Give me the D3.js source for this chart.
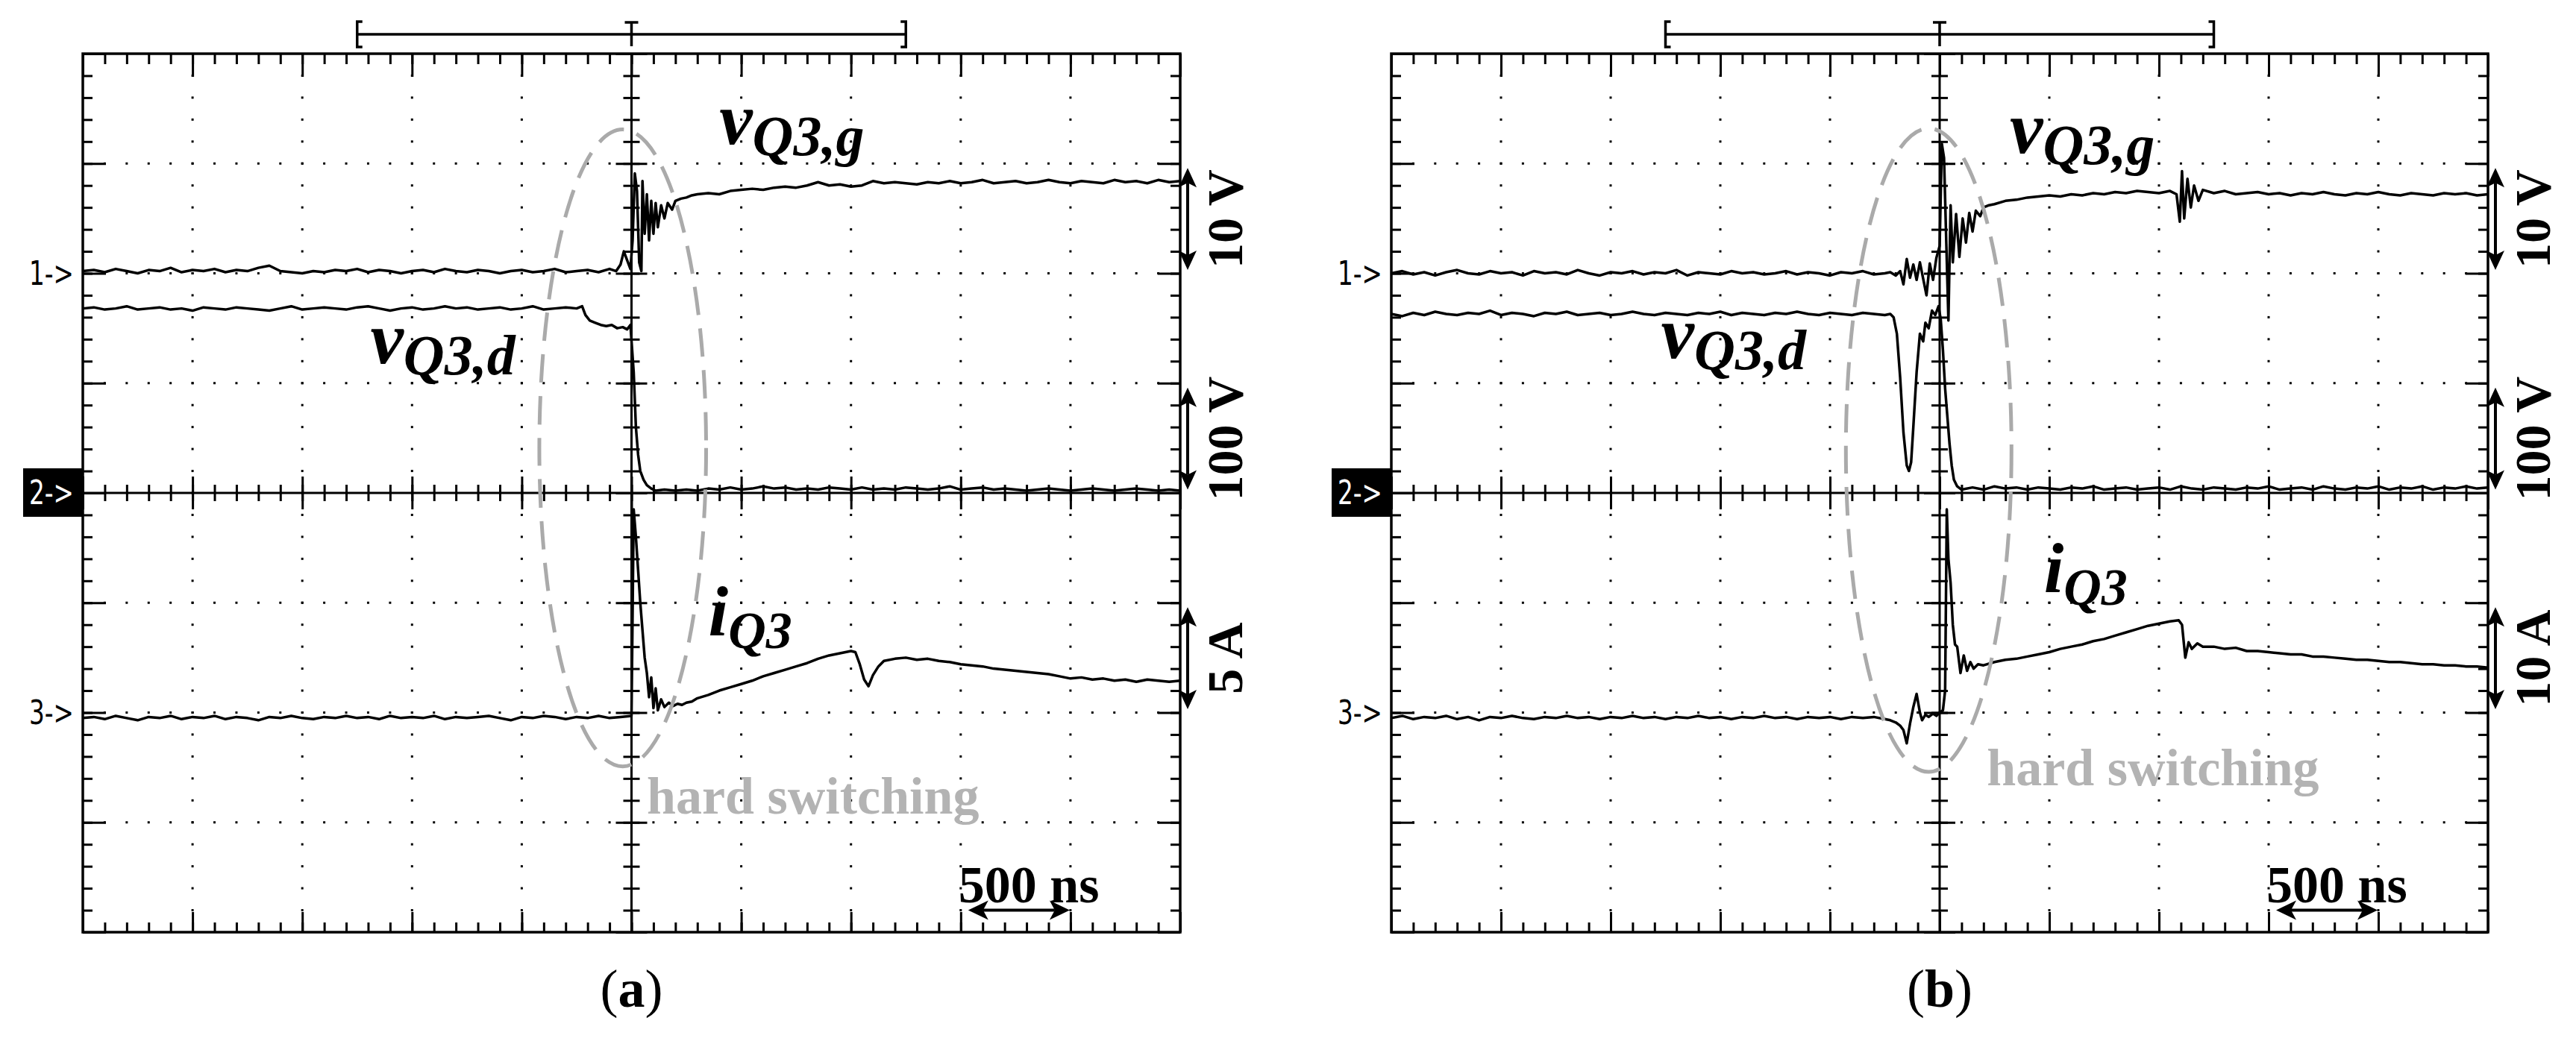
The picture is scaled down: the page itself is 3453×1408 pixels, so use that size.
<!DOCTYPE html>
<html>
<head>
<meta charset="utf-8">
<script src="https://cdn.jsdelivr.net/npm/d3@7"></script>
<style>
body { margin: 0; background: #fff; }
svg { display: block; }
.tk line { stroke: #000; stroke-width: 3; }
.tk path, .tk text { display: none; }
</style>
</head>
<body>
<svg class="chart" width="3453" height="1408"></svg>
<script>
// every trace: [time (div), level (div above its channel marker)]
// (a) gate voltage, drain voltage, current
const vgA = [[-5,.02],[-4.9,.03],[-4.8,.01],[-4.7,.04],[-4.6,.02],[-4.5,.0],[-4.4,.03],[-4.3,.02],[-4.2,.05],[-4.1,.01],
  [-4,.03],[-3.9,.02],[-3.8,.04],[-3.7,.01],[-3.6,.03],[-3.5,.02],[-3.4,.05],[-3.3,.07],[-3.2,.02],[-3.1,.01],
  [-3,.0],[-2.9,.02],[-2.8,.01],[-2.7,.03],[-2.6,.02],[-2.5,.04],[-2.4,.01],[-2.3,.03],[-2.2,.02],[-2.1,.0],
  [-2,.02],[-1.9,.03],[-1.8,.01],[-1.7,.04],[-1.6,.02],[-1.5,.01],[-1.4,.03],[-1.3,.02],[-1.2,.0],[-1.1,.02],
  [-1,.03],[-0.9,.01],[-0.8,.02],[-0.7,.04],[-0.6,.01],[-0.5,.02],[-0.4,.03],[-0.3,.01],[-0.2,.04],[-0.14,.02],
  [-0.1,.08],[-0.07,.2],[-0.04,.12],[-0.01,.04],[0.01,.3],[0.03,.91],[0.05,.75],[0.07,.1],[0.09,.02],[0.1,.84],
  [0.12,.36],[0.14,.72],[0.16,.3],[0.18,.66],[0.2,.36],[0.22,.64],[0.24,.42],[0.27,.62],[0.3,.5],[0.33,.64],
  [0.37,.58],[0.4,.66],[0.45,.68],[0.5,.69],[0.55,.71],[0.6,.72],[0.7,.73],[0.8,.72],[0.9,.75],[1,.76],
  [1.1,.77],[1.2,.76],[1.3,.78],[1.4,.79],[1.5,.78],[1.6,.8],[1.7,.83],[1.8,.8],[1.9,.81],[2,.79],
  [2.1,.8],[2.2,.84],[2.3,.82],[2.4,.83],[2.5,.82],[2.6,.81],[2.7,.83],[2.8,.82],[2.9,.84],[3,.82],
  [3.1,.83],[3.2,.85],[3.3,.82],[3.4,.83],[3.5,.84],[3.6,.82],[3.7,.83],[3.8,.85],[3.9,.83],[4,.82],
  [4.1,.84],[4.2,.83],[4.3,.82],[4.4,.85],[4.5,.83],[4.6,.84],[4.7,.82],[4.8,.85],[4.9,.83],[5,.84]];

const vdA = [[-5,1.68],[-4.9,1.69],[-4.8,1.67],[-4.7,1.68],[-4.6,1.7],[-4.5,1.67],[-4.4,1.68],[-4.3,1.69],[-4.2,1.67],[-4.1,1.68],
  [-4,1.66],[-3.9,1.69],[-3.8,1.68],[-3.7,1.67],[-3.6,1.69],[-3.5,1.68],[-3.4,1.67],[-3.3,1.66],[-3.2,1.68],[-3.1,1.7],
  [-3,1.67],[-2.9,1.68],[-2.8,1.69],[-2.7,1.68],[-2.6,1.67],[-2.5,1.69],[-2.4,1.7],[-2.3,1.68],[-2.2,1.66],[-2.1,1.68],
  [-2,1.69],[-1.9,1.67],[-1.8,1.68],[-1.7,1.7],[-1.6,1.68],[-1.5,1.69],[-1.4,1.67],[-1.3,1.68],[-1.2,1.69],[-1.1,1.67],
  [-1,1.68],[-0.9,1.7],[-0.8,1.67],[-0.7,1.68],[-0.6,1.69],[-0.5,1.68],[-0.45,1.7],[-0.42,1.62],[-0.38,1.57],[-0.33,1.55],
  [-0.28,1.53],[-0.23,1.52],[-0.18,1.53],[-0.13,1.5],[-0.08,1.51],[-0.04,1.49],[-0.01,1.53],[0.02,1.1],[0.04,0.6],[0.06,0.35],
  [0.08,0.2],[0.11,0.12],[0.14,0.07],[0.18,0.04],[0.22,0.02],[0.3,0.03],[0.4,0.02],[0.5,0.03],[0.6,0.02],[0.7,0.04],
  [0.8,0.03],[0.9,0.05],[1,0.03],[1.1,0.04],[1.2,0.06],[1.3,0.04],[1.4,0.05],[1.5,0.03],[1.6,0.04],[1.7,0.03],
  [1.8,0.05],[1.9,0.04],[2,0.03],[2.1,0.05],[2.2,0.03],[2.3,0.04],[2.4,0.03],[2.5,0.05],[2.6,0.04],[2.7,0.03],
  [2.8,0.04],[2.9,0.06],[3,0.03],[3.1,0.04],[3.2,0.05],[3.3,0.03],[3.4,0.04],[3.5,0.03],[3.6,0.02],[3.7,0.03],
  [3.8,0.04],[3.9,0.03],[4,0.02],[4.1,0.03],[4.2,0.04],[4.3,0.03],[4.4,0.02],[4.5,0.03],[4.6,0.04],[4.7,0.03],
  [4.8,0.02],[4.9,0.03],[5,0.02]];

const iA = [[-5,-.05],[-4.9,-.04],[-4.8,-.06],[-4.7,-.03],[-4.6,-.05],[-4.5,-.07],[-4.4,-.04],[-4.3,-.05],[-4.2,-.03],[-4.1,-.06],
  [-4,-.04],[-3.9,-.05],[-3.8,-.03],[-3.7,-.06],[-3.6,-.04],[-3.5,-.05],[-3.4,-.07],[-3.3,-.04],[-3.2,-.05],[-3.1,-.03],
  [-3,-.05],[-2.9,-.06],[-2.8,-.04],[-2.7,-.05],[-2.6,-.03],[-2.5,-.05],[-2.4,-.04],[-2.3,-.06],[-2.2,-.03],[-2.1,-.05],
  [-2,-.04],[-1.9,-.05],[-1.8,-.03],[-1.7,-.06],[-1.6,-.04],[-1.5,-.05],[-1.4,-.04],[-1.3,-.03],[-1.2,-.05],[-1.1,-.07],
  [-1,-.04],[-0.9,-.05],[-0.8,-.03],[-0.7,-.04],[-0.6,-.06],[-0.5,-.04],[-0.4,-.05],[-0.3,-.03],[-0.2,-.05],[-0.1,-.04],
  [0,-.03],[0.02,1.85],[0.04,1.6],[0.06,1.3],[0.08,1.0],[0.1,0.75],[0.12,0.5],[0.14,0.36],[0.16,0.14],[0.18,0.32],
  [0.2,0.04],[0.22,0.22],[0.24,0.02],[0.27,0.12],[0.3,0.05],[0.34,0.09],[0.38,0.06],[0.42,0.08],[0.46,0.07],[0.5,0.09],
  [0.55,0.1],[0.6,0.13],[0.7,0.16],[0.8,0.2],[0.9,0.23],[1,0.26],[1.1,0.29],[1.2,0.33],[1.3,0.36],[1.4,0.39],
  [1.5,0.42],[1.6,0.45],[1.7,0.49],[1.8,0.52],[1.9,0.54],[2,0.56],[2.04,0.55],[2.08,0.44],[2.12,0.3],[2.16,0.24],
  [2.2,0.34],[2.25,0.42],[2.3,0.47],[2.4,0.49],[2.5,0.5],[2.6,0.48],[2.7,0.49],[2.8,0.47],[2.9,0.46],[3,0.44],
  [3.1,0.43],[3.2,0.42],[3.3,0.4],[3.4,0.39],[3.5,0.38],[3.6,0.37],[3.7,0.36],[3.8,0.35],[3.9,0.33],[4,0.31],
  [4.1,0.32],[4.2,0.3],[4.3,0.31],[4.4,0.29],[4.5,0.3],[4.6,0.28],[4.7,0.3],[4.8,0.29],[4.9,0.28],[5,0.29]];

// (b)
const vgB = [[-5,.0],[-4.9,.02],[-4.8,-.01],[-4.7,.01],[-4.6,-.02],[-4.5,.01],[-4.4,.03],[-4.3,.0],[-4.2,-.01],[-4.1,.02],
  [-4,.0],[-3.9,.01],[-3.8,-.02],[-3.7,.02],[-3.6,.0],[-3.5,.01],[-3.4,-.01],[-3.3,.03],[-3.2,.0],[-3.1,-.02],
  [-3,.01],[-2.9,.0],[-2.8,.02],[-2.7,-.01],[-2.6,.01],[-2.5,.0],[-2.4,.03],[-2.3,-.02],[-2.2,.01],[-2.1,.0],
  [-2,-.01],[-1.9,.02],[-1.8,.0],[-1.7,.01],[-1.6,-.01],[-1.5,.0],[-1.4,.02],[-1.3,-.01],[-1.2,.01],[-1.1,.0],
  [-1,-.02],[-0.9,.01],[-0.8,.0],[-0.7,.02],[-0.6,-.01],[-0.5,.0],[-0.45,.01],[-0.4,-.02],[-0.36,.02],[-0.33,-.1],
  [-0.3,.13],[-0.27,-.04],[-0.24,.08],[-0.21,-.06],[-0.18,.1],[-0.15,-.05],[-0.12,-.2],[-0.09,.09],[-0.06,-.06],[-0.03,.14],
  [0,.25],[0.02,1.18],[0.04,1.05],[0.06,0.3],[0.08,-0.43],[0.1,0.62],[0.12,0.1],[0.15,0.54],[0.18,0.15],[0.21,0.5],
  [0.24,0.28],[0.27,0.55],[0.3,0.38],[0.33,0.57],[0.37,0.52],[0.4,0.6],[0.45,0.62],[0.5,0.63],[0.6,0.66],[0.7,0.67],
  [0.8,0.69],[0.9,0.7],[1,0.71],[1.1,0.7],[1.2,0.72],[1.3,0.71],[1.4,0.73],[1.5,0.72],[1.6,0.74],[1.7,0.73],
  [1.8,0.75],[1.9,0.74],[2,0.73],[2.1,0.75],[2.16,0.72],[2.19,0.47],[2.21,0.93],[2.23,0.5],[2.26,0.86],[2.29,0.6],
  [2.32,0.8],[2.36,0.66],[2.4,0.76],[2.5,0.73],[2.6,0.75],[2.7,0.72],[2.8,0.73],[2.9,0.74],[3,0.72],[3.1,0.73],
  [3.2,0.71],[3.3,0.73],[3.4,0.72],[3.5,0.74],[3.6,0.72],[3.7,0.71],[3.8,0.73],[3.9,0.72],[4,0.74],[4.1,0.72],
  [4.2,0.71],[4.3,0.73],[4.4,0.72],[4.5,0.71],[4.6,0.73],[4.7,0.72],[4.8,0.73],[4.9,0.71],[5,0.72]];

const vdB = [[-5,1.63],[-4.9,1.61],[-4.8,1.64],[-4.7,1.62],[-4.6,1.65],[-4.5,1.63],[-4.4,1.62],[-4.3,1.64],[-4.2,1.63],[-4.1,1.66],
  [-4,1.62],[-3.9,1.64],[-3.8,1.63],[-3.7,1.61],[-3.6,1.64],[-3.5,1.63],[-3.4,1.65],[-3.3,1.62],[-3.2,1.63],[-3.1,1.64],
  [-3,1.62],[-2.9,1.63],[-2.8,1.65],[-2.7,1.63],[-2.6,1.62],[-2.5,1.64],[-2.4,1.63],[-2.3,1.62],[-2.2,1.64],[-2.1,1.63],
  [-2,1.65],[-1.9,1.62],[-1.8,1.64],[-1.7,1.63],[-1.6,1.62],[-1.5,1.64],[-1.4,1.63],[-1.3,1.65],[-1.2,1.63],[-1.1,1.62],
  [-1,1.64],[-0.9,1.63],[-0.8,1.62],[-0.7,1.64],[-0.6,1.63],[-0.5,1.62],[-0.45,1.63],[-0.42,1.6],[-0.39,1.45],[-0.36,1.05],
  [-0.33,0.55],[-0.3,0.25],[-0.28,0.2],[-0.26,0.28],[-0.24,0.6],[-0.21,1.1],[-0.18,1.45],[-0.15,1.38],[-0.13,1.55],[-0.1,1.5],
  [-0.07,1.66],[-0.04,1.62],[-0.01,1.7],[0.01,1.58],[0.03,1.3],[0.05,0.95],[0.07,0.7],[0.09,0.45],[0.11,0.25],[0.13,0.12],
  [0.16,0.06],[0.2,0.03],[0.3,0.05],[0.4,0.03],[0.5,0.06],[0.6,0.04],[0.7,0.05],[0.8,0.03],[0.9,0.05],[1,0.04],
  [1.1,0.03],[1.2,0.05],[1.3,0.04],[1.4,0.06],[1.5,0.03],[1.6,0.04],[1.7,0.05],[1.8,0.03],[1.9,0.04],[2,0.05],
  [2.1,0.03],[2.2,0.06],[2.3,0.04],[2.4,0.03],[2.5,0.05],[2.6,0.04],[2.7,0.03],[2.8,0.05],[2.9,0.04],[3,0.06],
  [3.1,0.03],[3.2,0.04],[3.3,0.05],[3.4,0.03],[3.5,0.06],[3.6,0.04],[3.7,0.03],[3.8,0.05],[3.9,0.04],[4,0.06],
  [4.1,0.03],[4.2,0.05],[4.3,0.04],[4.4,0.06],[4.5,0.03],[4.6,0.05],[4.7,0.04],[4.8,0.06],[4.9,0.04],[5,0.05]];

const iB = [[-5,-.05],[-4.9,-.03],[-4.8,-.06],[-4.7,-.04],[-4.6,-.05],[-4.5,-.03],[-4.4,-.06],[-4.3,-.04],[-4.2,-.07],[-4.1,-.04],
  [-4,-.05],[-3.9,-.03],[-3.8,-.05],[-3.7,-.06],[-3.6,-.04],[-3.5,-.05],[-3.4,-.03],[-3.3,-.05],[-3.2,-.04],[-3.1,-.06],
  [-3,-.04],[-2.9,-.05],[-2.8,-.03],[-2.7,-.05],[-2.6,-.04],[-2.5,-.06],[-2.4,-.04],[-2.3,-.05],[-2.2,-.03],[-2.1,-.05],
  [-2,-.04],[-1.9,-.06],[-1.8,-.04],[-1.7,-.05],[-1.6,-.03],[-1.5,-.05],[-1.4,-.04],[-1.3,-.06],[-1.2,-.04],[-1.1,-.05],
  [-1,-.04],[-0.9,-.06],[-0.8,-.04],[-0.7,-.05],[-0.6,-.04],[-0.5,-.06],[-0.45,-.07],[-0.4,-.09],[-0.36,-.12],[-0.33,-.16],
  [-0.3,-.28],[-0.27,-.1],[-0.24,.05],[-0.21,.17],[-0.18,.0],[-0.16,-.07],[-0.13,-.02],[-0.1,-.04],[-0.06,-.01],[-0.03,-.03],
  [0,.0],[0.03,.02],[0.05,.2],[0.065,1.85],[0.08,1.4],[0.1,1.18],[0.12,0.8],[0.14,0.62],[0.16,0.6],[0.19,0.36],
  [0.22,0.52],[0.25,0.38],[0.28,0.46],[0.31,0.4],[0.35,0.44],[0.4,0.43],[0.5,0.46],[0.6,0.48],[0.7,0.49],[0.8,0.51],
  [0.9,0.53],[1,0.55],[1.1,0.58],[1.2,0.6],[1.3,0.62],[1.4,0.65],[1.5,0.67],[1.6,0.7],[1.7,0.73],[1.8,0.76],
  [1.9,0.79],[2,0.81],[2.1,0.83],[2.18,0.84],[2.21,0.8],[2.24,0.5],[2.27,0.64],[2.3,0.58],[2.35,0.63],[2.4,0.6],
  [2.5,0.6],[2.6,0.58],[2.7,0.59],[2.8,0.56],[2.9,0.56],[3,0.55],[3.1,0.54],[3.2,0.53],[3.3,0.53],[3.4,0.51],
  [3.5,0.51],[3.6,0.5],[3.7,0.49],[3.8,0.48],[3.9,0.48],[4,0.47],[4.1,0.46],[4.2,0.46],[4.3,0.45],[4.4,0.44],
  [4.5,0.44],[4.6,0.43],[4.7,0.43],[4.8,0.42],[4.9,0.42],[5,0.41]];

const chOffset = [2, 0, -2];
const chMarks = ["1->", "2->", "3->"];
const scaleA = ["10 V", "100 V", "5 A"];
const scaleB = ["10 V", "100 V", "10 A"];
const timeLabel = "500 ns";
const noteText = "hard switching";

// labels: [main letter, subscript, t, level]
const labelsA = [["v", "Q3,g", 0.8, 3.18], ["v", "Q3,d", -2.38, 1.18], ["i", "Q3", 0.7, -1.3]];
const labelsB = [["v", "Q3,g", 0.64, 3.1], ["v", "Q3,d", -2.54, 1.23], ["i", "Q3", 0.95, -0.9]];

const panels = [
  {left: 111, right: 1582, cap: "a", traces: [vgA, vdA, iA], scales: scaleA, labels: labelsA,
   ell: [-0.08, 0.41, 0.76, 2.9], note: [0.14, -2.92]},
  {left: 1865, right: 3335, cap: "b", traces: [vgB, vdB, iB], scales: scaleB, labels: labelsB,
   ell: [-0.1, 0.39, 0.755, 2.93], note: [0.43, -2.66]}
];

const gTop = 72, gBottom = 1250;
const svg = d3.select(".chart");
const serif = "'Liberation Serif', 'Times New Roman', serif";

panels.forEach(p => drawPanel(p));

function drawPanel(p){
  const x = d3.scaleLinear().domain([-5, 5]).range([p.left, p.right]);
  const y = d3.scaleLinear().domain([-4, 4]).range([gBottom, gTop]);
  const g = svg.append("g");
  const cx = x(0), cy = y(0);

  const minorX = d3.range(-25, 26).map(i => i / 5);
  const minorY = d3.range(-20, 21).map(i => i / 5);
  const majX = d3.range(-5, 6), majY = d3.range(-4, 5);

  // dotted graticule
  const dots = [];
  majX.filter(d => d != 0 && Math.abs(d) < 5).forEach(t => {
    minorY.filter(v => Math.abs(v) < 4).forEach(v => dots.push([t, v]));
  });
  majY.filter(d => d != 0 && Math.abs(d) < 4).forEach(v => {
    minorX.filter(t => Math.abs(t) < 5).forEach(t => dots.push([t, v]));
  });
  g.append("g").selectAll("rect").data(dots).enter().append("rect")
    .attr("x", d => x(d[0]) - 1.5).attr("y", d => y(d[1]) - 1.5)
    .attr("width", 3).attr("height", 3).attr("fill", "#000");

  // border ticks
  const tick = (axis, vals, size, tx, ty) => {
    g.append("g").attr("class", "tk").attr("transform", `translate(${tx},${ty})`)
      .call(axis.tickValues(vals).tickSize(size).tickFormat(""));
  };
  tick(d3.axisBottom(x), minorX, 14, 0, gTop);
  tick(d3.axisBottom(x), majX, 31, 0, gTop);
  tick(d3.axisTop(x), minorX, 13, 0, gBottom);
  tick(d3.axisTop(x), majX, 27, 0, gBottom);
  tick(d3.axisRight(y), minorY, 13, p.left, 0);
  tick(d3.axisRight(y), majY, 31, p.left, 0);
  tick(d3.axisLeft(y), minorY, 13, p.right, 0);
  tick(d3.axisLeft(y), majY, 30, p.right, 0);
  // centre cross
  tick(d3.axisLeft(y), minorY, 11, cx, 0);
  tick(d3.axisRight(y), minorY, 11, cx, 0);
  tick(d3.axisLeft(y), majY, 21, cx, 0);
  tick(d3.axisRight(y), majY, 21, cx, 0);
  tick(d3.axisTop(x), minorX, 11, 0, cy);
  tick(d3.axisBottom(x), minorX, 11, 0, cy);
  tick(d3.axisTop(x), majX, 22, 0, cy);
  tick(d3.axisBottom(x), majX, 22, 0, cy);

  g.append("line").attr("x1", cx).attr("x2", cx).attr("y1", gTop).attr("y2", gBottom)
    .attr("stroke", "#000").attr("stroke-width", 3);
  g.append("line").attr("x1", p.left).attr("x2", p.right).attr("y1", cy).attr("y2", cy)
    .attr("stroke", "#000").attr("stroke-width", 3);
  g.append("rect").attr("x", p.left).attr("y", gTop)
    .attr("width", p.right - p.left).attr("height", gBottom - gTop)
    .attr("fill", "none").attr("stroke", "#000").attr("stroke-width", 3.5);

  // trigger bracket on top
  const bl = x(-2.5), br = x(2.5), by = 46;
  g.append("path")
    .attr("d", `M${bl},${by}H${br}M${bl + 7},29H${bl}V63H${bl + 7}M${br - 7},29H${br}V63H${br - 7}M${cx - 9},30H${cx + 9}M${cx},30V62`)
    .attr("fill", "none").attr("stroke", "#000").attr("stroke-width", 3.5);

  // channel markers
  chMarks.forEach((m, i) => {
    const yy = y(chOffset[i]);
    if (i == 1) {
      g.append("rect").attr("x", p.left - 80).attr("y", yy - 33).attr("width", 80).attr("height", 65).attr("fill", "#000");
    }
    g.append("text").text(m)
      .attr("x", p.left - 72).attr("y", yy + 15)
      .attr("textLength", 60).attr("lengthAdjust", "spacingAndGlyphs")
      .attr("font-family", "'DejaVu Sans', sans-serif").attr("font-size", 44)
      .attr("fill", i == 1 ? "#fff" : "#000");
  });

  // traces
  const line = d3.line().x(d => x(d[0]));
  p.traces.forEach((tr, i) => {
    g.append("path").datum(tr)
      .attr("d", line.y(d => y(d[1] + chOffset[i])))
      .attr("fill", "none").attr("stroke", "#000")
      .attr("stroke-width", 3.5).attr("stroke-linejoin", "round");
  });

  // volts/amps per division arrows
  const ax = p.right + 10;
  p.scales.forEach((s, i) => {
    const y0 = y(chOffset[i] + 0.03), y1 = y(chOffset[i] + 0.96);
    g.append("path")
      .attr("d", `M${ax},${y1 + 20}V${y0 - 20}`)
      .attr("stroke", "#000").attr("stroke-width", 4);
    g.append("path")
      .attr("d", `M${ax},${y1}L${ax - 12},${y1 + 26}L${ax},${y1 + 20}L${ax + 12},${y1 + 26}Z` +
                 `M${ax},${y0}L${ax - 12},${y0 - 26}L${ax},${y0 - 20}L${ax + 12},${y0 - 26}Z`)
      .attr("fill", "#000");
    g.append("text").text(s)
      .attr("transform", `translate(${p.right + 83},${(y0 + y1) / 2}) rotate(-90)`)
      .attr("text-anchor", "middle")
      .attr("font-family", serif).attr("font-weight", "bold").attr("font-size", 68);
  });

  // time/div marker
  const ty = y(-3.8), tx0 = x(3) + 10, tx1 = x(4) - 1;
  g.append("path").attr("d", `M${tx0 + 20},${ty}H${tx1 - 20}`).attr("stroke", "#000").attr("stroke-width", 4);
  g.append("path")
    .attr("d", `M${tx0},${ty}L${tx0 + 27},${ty - 13}L${tx0 + 20},${ty}L${tx0 + 27},${ty + 13}Z` +
               `M${tx1},${ty}L${tx1 - 27},${ty - 13}L${tx1 - 20},${ty}L${tx1 - 27},${ty + 13}Z`)
    .attr("fill", "#000");
  g.append("text").text(timeLabel)
    .attr("x", x(2.98)).attr("y", y(-3.73))
    .attr("font-family", serif).attr("font-weight", "bold").attr("font-size", 70);

  // hard switching ellipse + note
  const e = p.ell;
  g.append("ellipse")
    .attr("cx", x(e[0])).attr("cy", y(e[1]))
    .attr("rx", x(e[2]) - x(0)).attr("ry", y(0) - y(e[3]))
    .attr("fill", "none").attr("stroke", "#aaa").attr("stroke-width", 5)
    .attr("stroke-dasharray", "38 18");
  g.append("text").text(noteText)
    .attr("x", x(p.note[0])).attr("y", y(p.note[1]))
    .attr("font-family", serif).attr("font-weight", "bold").attr("font-size", 70)
    .attr("fill", "#b3b3b3");

  // trace names
  p.labels.forEach(l => {
    const isV = l[0] == "v";
    const t = g.append("text")
      .attr("x", x(l[2])).attr("y", y(l[3]))
      .attr("font-family", serif).attr("font-weight", "bold").attr("font-style", "italic")
      .attr("font-size", isV ? 100 : 96);
    t.append("tspan").text(l[0]);
    t.append("tspan").text(l[1]).attr("font-size", isV ? 76 : 70).attr("dy", isV ? 15 : 17);
  });

  // caption
  const cap = g.append("text")
    .attr("x", cx).attr("y", 1350).attr("text-anchor", "middle")
    .attr("font-family", serif).attr("font-size", 72);
  cap.append("tspan").text("(");
  cap.append("tspan").text(p.cap).attr("font-weight", "bold");
  cap.append("tspan").text(")");
}
</script>
</body>
</html>
